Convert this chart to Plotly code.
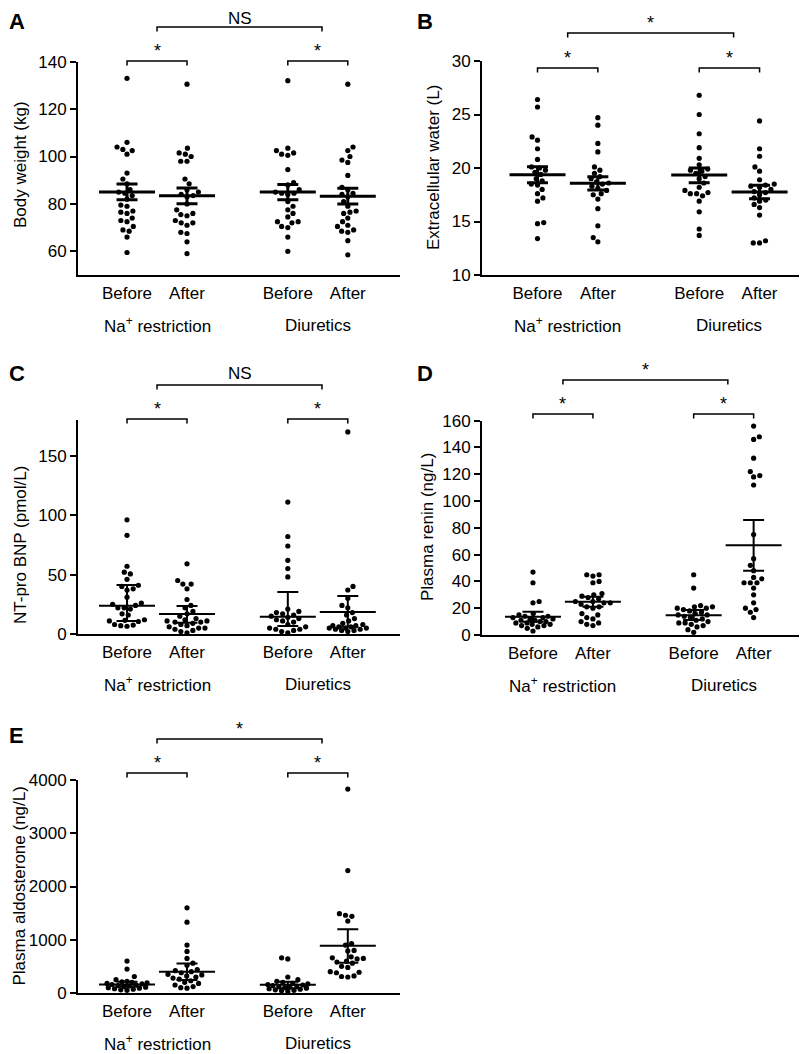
import plotly.graph_objects as go

# Target picture size in px; the page body adds an 8px offset, so the
# figure itself is made 8px smaller and every pixel position is shifted back.
W, H = 807, 1054
OFF = 8
FW, FH = W - OFF, H - OFF
FONT = "Liberation Sans, Arial, Helvetica, sans-serif"

# Category and group labels
categories = ["Before", "After", "Before", "After"]
groups = ["Na<sup>+</sup> restriction", "Diuretics"]
cat_x = [1, 2, 3.68, 4.68]
group_x = [1.5, 4.18]

# A - body weight (kg)
A_bn = [133, 106, 104, 103, 102.5, 101, 93, 90.5, 88.5, 86, 85, 84.5, 83.5, 82, 79.5, 79, 77,
        76.5, 76, 74, 73, 72.5, 70.5, 69, 68.5, 66, 59.5]
A_an = [130.5, 103.5, 101.5, 101, 100, 98, 98, 90.5, 88.5, 86, 85, 84, 83.5, 83, 80, 77.5, 76,
        75.5, 75, 73, 72, 72, 71, 68, 67.5, 64, 59]
A_bd = [132, 103.5, 102.5, 101.5, 101, 100.5, 94.5, 89, 88, 86, 85, 84.5, 84.5, 84, 81, 79, 77.5,
        76, 74.5, 72.5, 72.5, 72, 70.5, 70, 66, 60]
A_ad = [130.5, 104, 102.5, 100, 98.5, 97.5, 92, 87, 86, 84.5, 84, 83, 81, 79, 77, 76.5, 76, 74,
        72.5, 71, 70.5, 69, 68.5, 68, 64.5, 58.5]
A_mid = [85.0, 83.4, 85.0, 83.2]
A_lo = [81.8, 80.1, 81.8, 80.0]
A_hi = [88.4, 86.7, 88.2, 86.6]

# B - extracellular water (L)
B_bn = [26.4, 25.7, 22.9, 22.6, 21.8, 20.8, 20.1, 20.0, 19.8, 19.6, 19.4, 19.0, 18.8, 18.5,
        18.4, 18.0, 17.6, 17.2, 16.9, 14.9, 14.8, 13.4]
B_an = [24.7, 24.0, 22.3, 21.5, 20.1, 19.8, 19.5, 19.2, 19.0, 18.7, 18.6, 18.5, 18.3, 18.1,
        17.9, 17.6, 17.5, 17.1, 16.2, 14.6, 13.5, 13.1]
B_bd = [26.8, 25.0, 23.2, 21.9, 20.9, 20.3, 19.9, 19.8, 19.7, 19.5, 19.2, 19.0, 18.6, 18.2,
        17.9, 17.7, 17.6, 17.6, 17.4, 16.9, 15.9, 14.3, 13.7]
B_ad = [24.4, 21.8, 21.1, 20.1, 19.7, 18.9, 18.5, 18.4, 18.3, 18.2, 18.0, 17.8, 17.7, 17.5,
        17.2, 17.0, 16.9, 16.6, 16.3, 15.6, 13.2, 13.0, 13.0]
B_mid = [19.37, 18.57, 19.35, 17.76]
B_lo = [18.63, 17.94, 18.63, 17.13]
B_hi = [20.12, 19.19, 20.0, 18.38]

# C - NT-pro BNP (pmol/L)
C_bn = [96, 83, 57, 52, 50.5, 46, 41, 40, 38, 37, 31, 26, 25, 24, 22, 22, 21, 17, 16, 12,
        11.5, 11, 10.5, 8, 7.5, 7, 6.5]
C_an = [59, 45, 42, 42, 38, 29, 24, 22, 19, 17, 15, 13, 12, 11, 11, 10, 10, 9, 8, 7, 6, 5, 5,
        4, 3, 2, 1]
C_bd = [111, 82, 74, 62, 55, 48, 21, 19, 18, 17, 16, 15, 14, 13, 12, 11, 10, 8, 6, 5, 4, 4, 3,
        2, 1]
C_ad = [170, 40, 37, 30, 24, 22, 18, 16, 13, 11, 9, 8, 7, 7, 6, 6, 5, 5, 5, 4, 4, 3, 3, 2]
C_mid = [23.8, 16.8, 14.6, 18.5]
C_lo = [10.9, 9.5, 6.7, 6.0]
C_hi = [41.2, 23.6, 35.3, 32.0]

# D - plasma renin (ng/L)
D_bn = [47, 39, 25, 24, 16, 15, 14, 14, 13, 13, 12, 12, 11, 11, 10, 10, 9, 9, 8, 8, 7, 7, 6, 5, 3]
D_an = [45, 45, 44, 40, 39, 31, 30, 29, 28, 27, 25, 25, 24, 24, 23, 21, 21, 20, 16, 15, 13, 12,
        10, 9, 8, 7]
D_bd = [45, 35, 22, 21, 21, 20, 20, 19, 18, 17, 16, 15, 15, 14, 13, 12, 11, 10, 9, 9, 8, 7, 6, 4, 2]
D_ad = [156, 148, 146, 132, 122, 119, 118, 112, 75, 57, 52, 48, 43, 42, 39, 39, 39, 35, 30, 24,
        20, 19, 17, 13]
D_mid = [13.7, 24.9, 14.7, 67.0]
D_lo = [9.9, 21.1, 11.2, 48.0]
D_hi = [17.4, 28.6, 18.7, 85.9]

# E - plasma aldosterone (ng/L)
E_bn = [600, 450, 310, 250, 220, 210, 200, 190, 180, 170, 160, 150, 140, 130, 120, 110, 100, 90,
        80, 70, 60, 50]
E_an = [1600, 1330, 900, 780, 650, 560, 520, 440, 420, 400, 380, 350, 340, 320, 300, 280, 260,
        230, 200, 180, 150, 120, 100, 90]
E_bd = [660, 640, 300, 250, 220, 200, 180, 170, 160, 150, 140, 130, 120, 110, 100, 90, 80, 70,
        60, 50, 40, 30]
E_ad = [3830, 2300, 1490, 1460, 1440, 1350, 930, 900, 800, 790, 680, 660, 650, 640, 600, 580,
        560, 500, 480, 400, 390, 380, 320, 310, 300]
E_mid = [160, 400, 155, 885]
E_lo = [120, 245, 90, 570]
E_hi = [212, 555, 212, 1196]

# panel layout (pixel boxes in the target picture) and labels
# let = (x, y, xanchor, yanchor) of the panel letter
panels = [
    dict(letter="A", title="Body weight (kg)", data=[A_bn, A_an, A_bd, A_ad],
         mid=A_mid, lo=A_lo, hi=A_hi, yr=[50, 140], ticks=[60, 80, 100, 120, 140],
         box=(78, 400, 61.7, 275), xr=[0.183, 5.55], ttl=(20, 165),
         let=(OFF, OFF, "left", "top"),
         inner=61, outer=27, outer_txt="NS", lw=3),
    dict(letter="B", title="Extracellular water (L)", data=[B_bn, B_an, B_bd, B_ad],
         mid=B_mid, lo=B_lo, hi=B_hi, yr=[10, 30], ticks=[10, 15, 20, 25, 30],
         box=(482, 803, 61, 275), xr=[0.08, 5.40], ttl=(434, 168),
         let=(425, OFF, "center", "top"),
         inner=68, outer=33, outer_txt="*", lw=3),
    dict(letter="C", title="NT-pro BNP (pmol/L)", data=[C_bn, C_an, C_bd, C_ad],
         mid=C_mid, lo=C_lo, hi=C_hi, yr=[0, 180], ticks=[0, 50, 100, 150],
         box=(78, 400, 420, 634), xr=[0.183, 5.55], ttl=(20, 545),
         let=(OFF, 373, "left", "middle"),
         inner=419, outer=385, outer_txt="NS", lw=2),
    dict(letter="D", title="Plasma renin (ng/L)", data=[D_bn, D_an, D_bd, D_ad],
         mid=D_mid, lo=D_lo, hi=D_hi, yr=[0, 160], ticks=[0, 20, 40, 60, 80, 100, 120, 140, 160],
         box=(482, 804, 420.7, 635), xr=[0.15, 5.52], ttl=(427, 527),
         let=(425, 373, "center", "middle"),
         inner=414, outer=380, outer_txt="*", lw=2),
    dict(letter="E", title="Plasma aldosterone (ng/L)", data=[E_bn, E_an, E_bd, E_ad],
         mid=E_mid, lo=E_lo, hi=E_hi, yr=[0, 4000], ticks=[0, 1000, 2000, 3000, 4000],
         box=(78, 400, 780, 993), xr=[0.183, 5.55], ttl=(OFF, 886),
         let=(OFF, 735, "left", "middle"),
         inner=773, outer=739, outer_txt="*", lw=2),
]


def swarm(vals, center, ppy, ppx, d=6.3, maxw=20.0):
    # beeswarm: each dot goes to the free spot nearest the category centre;
    # when the swarm would get wider than maxw px, dots may overlap instead
    order = sorted(range(len(vals)), key=lambda i: vals[i])
    placed = []
    xs = [center] * len(vals)
    for k, i in enumerate(order):
        y = vals[i] * ppy
        forb = []
        for xp, yp in placed:
            dy = abs(y - yp)
            if dy < d:
                w = (d * d - dy * dy) ** 0.5
                forb.append((xp - w, xp + w))
        cands = [0.0] + [a for a, b in forb] + [b for a, b in forb]
        sgn = 1 if k % 2 else -1
        cands.sort(key=lambda c: (round(abs(c), 6), sgn * c))
        for c in cands:
            if all(not (a + 1e-6 < c < b - 1e-6) for a, b in forb):
                break
        if abs(c) > maxw:
            best, bestd = 0.0, -1.0
            for s in range(-int(maxw), int(maxw) + 1):
                dmin = min([((s - xp) ** 2 + (y - yp) ** 2) ** 0.5 for xp, yp in placed] + [99])
                if dmin > bestd + 1e-6:
                    best, bestd = float(s), dmin
            c = best
        placed.append((c, y))
        xs[i] = center + c / ppx
    return xs


def pxf(p):
    return (p - OFF) / FW


def pyf(p):
    return 1 - (p - OFF) / FH


fig = go.Figure()
annotations = []
shapes = []

for n, p in enumerate(panels, start=1):
    sfx = "" if n == 1 else str(n)
    xa, ya = "x" + sfx, "y" + sfx
    x0, x1, ytop, ybot = p["box"]
    ppy = (ybot - ytop) / (p["yr"][1] - p["yr"][0])
    ppx = (x1 - x0) / (p["xr"][1] - p["xr"][0])

    # dots
    xs, ys = [], []
    for c, vals in zip(cat_x, p["data"]):
        xs += swarm(vals, c, ppy, ppx)
        ys += vals
    fig.add_trace(go.Scatter(x=xs, y=ys, mode="markers", xaxis=xa, yaxis=ya,
                             marker=dict(color="black", size=5.2), showlegend=False,
                             hoverinfo="skip"))

    # mean / error bars
    fig.add_trace(go.Scatter(
        x=cat_x, y=p["mid"], mode="markers", xaxis=xa, yaxis=ya, showlegend=False,
        marker=dict(symbol="line-ew", size=40, color="black",
                    line=dict(color="black", width=p["lw"])),
        error_y=dict(type="data", symmetric=False,
                     array=[h - m for h, m in zip(p["hi"], p["mid"])],
                     arrayminus=[m - l for m, l in zip(p["mid"], p["lo"])],
                     color="black", thickness=p["lw"], width=10.5)))

    fig.update_layout({
        "xaxis" + sfx: dict(domain=[pxf(x0), pxf(x1)], range=p["xr"], anchor=ya,
                            automargin=False,
                            showline=True, linewidth=2, linecolor="black",
                            showgrid=False, zeroline=False,
                            tickvals=cat_x, ticktext=categories,
                            ticks="", ticklabelstandoff=2,
                            tickfont=dict(size=17, color="black", family=FONT)),
        "yaxis" + sfx: dict(domain=[pyf(ybot), pyf(ytop)], range=p["yr"], anchor=xa,
                            automargin=False,
                            showline=True, linewidth=2, linecolor="black",
                            showgrid=False, zeroline=False,
                            tickvals=p["ticks"], ticks="outside", ticklen=6, tickwidth=2,
                            tickcolor="black",
                            tickfont=dict(size=17, color="black", family=FONT)),
    })

    # panel letter
    lx, ly, lxa, lya = p["let"]
    annotations.append(dict(text="<b>%s</b>" % p["letter"], xref="paper", yref="paper",
                            x=pxf(lx), y=pyf(ly), showarrow=False, borderpad=0,
                            xanchor=lxa, yanchor=lya,
                            font=dict(size=22, color="black", family=FONT)))
    # y title
    tx, ty = p["ttl"]
    annotations.append(dict(text=p["title"], xref="paper", yref="paper", textangle=-90,
                            x=pxf(tx), y=pyf(ty), showarrow=False, borderpad=0,
                            xanchor="left" if tx <= OFF else "center", yanchor="middle",
                            font=dict(size=17, color="black", family=FONT)))
    # group labels
    for gx, g in zip(group_x, groups):
        annotations.append(dict(text=g, xref=xa, yref="paper", x=gx, y=pyf(ybot + 50),
                                showarrow=False, xanchor="center", yanchor="middle",
                                font=dict(size=17, color="black", family=FONT)))

    # brackets: within-group comparisons and between-group comparison
    brk = [(cat_x[0], cat_x[1], p["inner"], "*"),
           (cat_x[2], cat_x[3], p["inner"], "*"),
           (1.5, 4.25, p["outer"], p["outer_txt"])]
    for bx0, bx1, by, txt in brk:
        shapes.append(dict(type="path", xref=xa, yref="paper",
                           path="M %f,%f L %f,%f L %f,%f L %f,%f" % (
                               bx0, pyf(by + 4.5), bx0, pyf(by), bx1, pyf(by), bx1, pyf(by + 4.5)),
                           line=dict(color="black", width=1.5)))
        if txt == "*":
            annotations.append(dict(text="*", xref=xa, yref="paper", x=(bx0 + bx1) / 2,
                                    y=pyf(by - 10), showarrow=False, xanchor="center",
                                    yanchor="middle",
                                    font=dict(size=18, color="black", family=FONT)))
        else:
            # keep the text inside the figure when the bracket sits near the top edge
            ty_txt = by - 12
            anchor = "middle"
            if ty_txt - 10 < OFF:
                ty_txt, anchor = OFF, "top"
            annotations.append(dict(text=txt, xref=xa, yref="paper", x=(bx0 + bx1) / 2,
                                    y=pyf(ty_txt), showarrow=False, xanchor="center",
                                    yanchor=anchor, borderpad=0,
                                    font=dict(size=17, color="black", family=FONT)))

fig.update_layout(width=FW, height=FH, margin=dict(l=0, r=0, t=0, b=0, autoexpand=False),
                  paper_bgcolor="white", plot_bgcolor="white",
                  font=dict(family=FONT, color="black"),
                  annotations=annotations, shapes=shapes, showlegend=False)

fig.write_html("out.html")
